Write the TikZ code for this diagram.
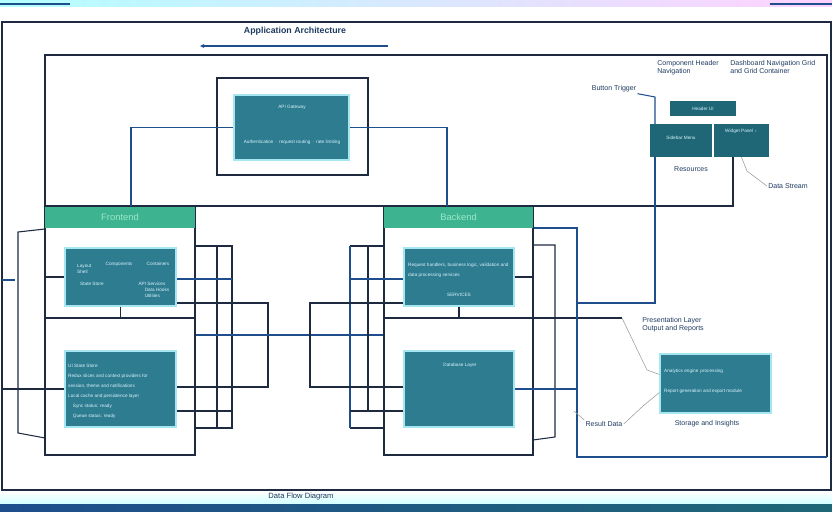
\documentclass[tikz,border=0pt]{standalone}
\usepackage{fontspec}
\setmainfont{Liberation Sans}
\usetikzlibrary{arrows.meta,positioning,calc}
\definecolor{boxteal}{HTML}{2E7C90}
\definecolor{boxrim}{HTML}{A6E6F0}
\definecolor{headgreen}{HTML}{3DB38F}
\definecolor{headtext}{HTML}{9BE8C9}
\definecolor{darkteal}{HTML}{1F6777}
\definecolor{wirenavy}{HTML}{1E2A40}
\definecolor{wireblue}{HTML}{1F4E8C}
\definecolor{labelnavy}{HTML}{1E3A5F}
\tikzset{
 panel/.style={draw=wirenavy,line width=0.9pt,fill=white},
 tealbox/.style={draw=boxrim,line width=1pt,fill=boxteal},
 darkbox/.style={fill=darkteal},
 header/.style={fill=headgreen,text=headtext,font=\fontsize{8}{9}\selectfont},
 wire/.style={draw=wirenavy,line width=0.9pt},
 bwire/.style={draw=wireblue,line width=0.9pt},
 leader/.style={draw=gray!75,line width=0.5pt},
 lbl/.style={font=\fontsize{6}{7}\selectfont,text=labelnavy,align=left,inner sep=1pt},
 intext/.style={font=\fontsize{4}{5}\selectfont,text=white!85!cyan,inner sep=0pt,align=left},
}

\begin{document}
\begin{tikzpicture}[x=0.03cm,y=-0.03cm]
\useasboundingbox (0,0) rectangle (832,512);
% top and bottom bands
\shade[left color=cyan!30,right color=magenta!18] (0,0) rectangle (832,7);
\draw[wireblue,line width=1pt] (0,4) -- (70,4) (770,4) -- (832,4);
\shade[top color=white,bottom color=cyan!18] (0,491) rectangle (832,504);
\shade[left color=wireblue,right color=darkteal] (0,504) rectangle (832,512);
% outer frame and title
\draw[wire] (2,22) rectangle (831,490);
\node[font=\fontsize{7.5}{9}\selectfont\bfseries,text=labelnavy] (title) at (295,31) {Application Architecture};
\coordinate (ttipL) at (200,46);
\coordinate (ttipR) at (388,46);
\draw[bwire,{Stealth[length=1.3mm,width=1.2mm]}-] (ttipL) -- (ttipR);

% right cluster
\node[darkbox,minimum width=1.98cm,minimum height=0.45cm] (hdr) at (703,108.5) {};
\node[darkbox,minimum width=1.86cm,minimum height=0.99cm] (side) at (681,140.5) {};
\node[darkbox,minimum width=1.65cm,minimum height=0.99cm] (widget) at (741.5,140.5) {};
\node[intext] at (hdr.center) {Header UI};
\node[intext] at (681,138) {Sidebar Menu};
\node[intext] at (741,131) {Widget Panel \,›};
\node[lbl] (reslbl) at (691,169) {Resources};
\node[lbl,anchor=north west] (complbl) at (656,59) {Component Header\\Navigation};
\node[lbl,anchor=north west] (dashlbl) at (729,59) {Dashboard Navigation Grid\\and Grid Container};
\node[lbl] (btnlbl) at (614,89) {Button Trigger};
\node[lbl] (dslbl) at (788,186) {Data Stream};
\coordinate (wdrop) at (733,206);
\coordinate (sdrop) at (655,303);
\coordinate (stop) at (655,97);
\draw[wire] (widget.south -| wdrop) -- (wdrop) -| (45,55) -| (827,457);
\draw[bwire] (btnlbl.south east) -- (stop) -- (side.north -| stop);
\draw[leader] (widget.south) -- (747,171) -- (dslbl.west);

% top gateway box
\node[panel,minimum width=4.53cm,minimum height=2.91cm] (gwframe) at (292.5,126.5) {};
\node[tealbox,minimum width=3.45cm,minimum height=1.95cm] (gateway) at (291.5,127.5) {};
\node[intext] at (292,107) {API Gateway};
\node[intext] at (292,142) {Authentication \,·\, request routing \,·\, rate limiting};
\coordinate (fup) at (131,206);
\coordinate (bup) at (447,206);
\draw[bwire] (fup) |- (gateway.west);
\draw[bwire] (gateway.east) -| (bup);

% frontend tier
\node[panel,minimum width=4.5cm,minimum height=7.44cm] (front) at (120,331) {};
\node[header,minimum width=4.5cm,minimum height=0.63cm,anchor=north] (fhead) at (front.north) {Frontend};
\node[tealbox,minimum width=3.33cm,minimum height=1.74cm] (fview) at (120.5,277) {};
\node[tealbox,minimum width=3.33cm,minimum height=2.28cm] (fstore) at (120.5,389) {};
\node[intext,anchor=west] at (77,269) {Layout\\Shell};
\node[intext] at (119,264) {Components};
\node[intext] at (158,264) {Containers};
\node[intext,anchor=west] at (80,284) {State Store};
\node[intext] at (152,284) {API Services};
\node[intext] at (157,293) {Data Hooks\\Utilities};
\node[intext,anchor=north west,font=\fontsize{4}{8.5}\selectfont] at (68,364)
  {UI State Store\\Redux slices and context providers for\\session, theme and notifications\\Local cache and persistence layer\\\quad Sync status: ready\\\quad Queue status: ready};
\draw[wire] (45,318) -- (195,318);
\draw[wire] (fview.south) -- ++(0,12);
\draw[wire] (45,229) -- (18,232) -- (18,433) -- (45,438);
\draw[wire] (front.west |- fview.west) -- (fview.west);
\coordinate (inA) at (2,280);
\coordinate (inB) at (2,389);
\draw[bwire] (inA) -- ++(13,0);
\draw[wire] (inB) -- (fstore.west);
\draw[wire] (196,246) -| (232,428) -- (196,428);
\draw[wire] (217,246) -- (217,428);
\draw[bwire] (fview.east |- 0,279) -- (232,279);
\draw[wire] (fview.east |- 0,303) -| (268,387) -- (fstore.east |- 0,387);
\draw[wire] (fstore.east |- 0,411) -- (232,411);

% backend tier
\node[panel,minimum width=4.47cm,minimum height=7.44cm] (back) at (458.5,331) {};
\node[header,minimum width=4.47cm,minimum height=0.63cm,anchor=north] (bhead) at (back.north) {Backend};
\node[tealbox,minimum width=3.3cm,minimum height=1.74cm] (bproc) at (459,277) {};
\node[tealbox,minimum width=3.3cm,minimum height=2.28cm] (bdata) at (459,389) {};
\node[intext,anchor=north west,font=\fontsize{4}{8.5}\selectfont] at (408,263)
  {Request handlers, business logic, validation and\\data processing services};
\node[intext] at (459,295) {SERVICES};
\node[intext] at (460,365) {Database Layer};
\draw[bwire] (front.east |- 0,335) -- (back.west |- 0,335);
\draw[wire] (350,246) -- (back.west |- 0,246);
\draw[wire] (350,428) -- (back.west |- 0,428);
\draw[bwire] (350,246) -- (350,428);
\draw[wire] (368,246) -- (368,411);
\draw[bwire] (350,279) -- (bproc.west |- 0,279);
\draw[wire] (bproc.west |- 0,303) -| (310,387) -- (bdata.west |- 0,387);
\draw[wire] (350,411) -- (bdata.west |- 0,411);
\draw[wire] (back.west |- 0,318) -- (622,318);
\draw[wire] (bproc.south) -- ++(0,12);
\draw[wire] (bproc.east) -- (back.east |- bproc.east);
\draw[wire] (back.east |- 0,245) -- (555,245) -- (555,437) -- (533,440);

% right panel
\draw[bwire] (back.east |- 0,228) -- (577,228) -- (577,457) -- (827,457);
\draw[bwire] (bdata.east) -- (577,389);
\draw[bwire] (577,303) -- (sdrop) -- (side.south -| sdrop);
\node[tealbox,minimum width=3.33cm,minimum height=1.77cm] (report) at (715.5,383.5) {};
\node[intext,anchor=west] at (664,371) {Analytics engine \,processing};
\node[intext,anchor=west] at (664,391) {Report generation and export module};
\node[lbl,anchor=north west] (preslbl) at (641,316) {Presentation Layer\\Output and Reports};
\node[lbl] (rdlbl) at (604,424) {Result Data};
\node[lbl] (stlbl) at (707,424) {Storage and Insights};
\coordinate (pl) at (622,318);
\draw[leader] (pl) -- (647,370) -- ($(report.west)+(0,-9)$);
\draw[leader] (rdlbl.east) -- (643,406) -- ($(report.west)+(0,9)$);
\draw[leader] (574,411) -- (rdlbl.north west);

% footer
\node[font=\fontsize{6.5}{8}\selectfont,text=labelnavy] (foot) at (301,497) {Data Flow Diagram};
\end{tikzpicture}
\end{document}
